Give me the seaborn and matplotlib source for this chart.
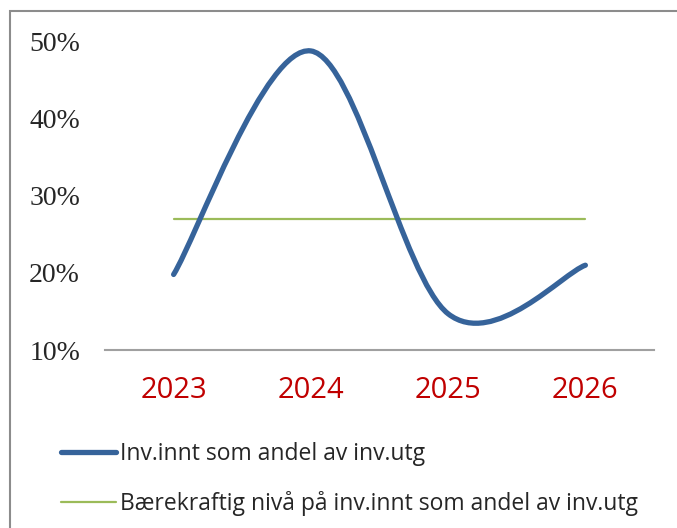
import matplotlib
matplotlib.use("Agg")
import matplotlib.pyplot as plt
import seaborn as sns
import pandas as pd
from matplotlib.path import Path
from matplotlib.patches import PathPatch, Rectangle
from matplotlib.lines import Line2D
from matplotlib.ticker import FuncFormatter

years = ["2023", "2024", "2025", "2026"]
andel = [19.8, 48.8, 14.7, 21.0]           # Inv.innt som andel av inv.utg (%)
barekraftig = [27.0, 27.0, 27.0, 27.0]     # Bærekraftig nivå (%)
yticks = [10, 20, 30, 40, 50]

label_andel = "Inv.innt som andel av inv.utg"
label_nivaa = "Bærekraftig nivå på inv.innt som andel av inv.utg"

BLUE = "#36639a"
GREEN = "#9bbb59"
GREY = "#a0a0a0"


def smooth_path(xs, ys, k=1 / 6):
    # Excel-like smoothed line: cubic Bezier segments through every data point
    pts = list(zip(xs, ys))
    n = len(pts)
    verts = [pts[0]]
    codes = [Path.MOVETO]
    for i in range(n - 1):
        p0 = pts[max(i - 1, 0)]
        p1 = pts[i]
        p2 = pts[i + 1]
        p3 = pts[min(i + 2, n - 1)]
        c1 = (p1[0] + (p2[0] - p0[0]) * k, p1[1] + (p2[1] - p0[1]) * k)
        c2 = (p2[0] - (p3[0] - p1[0]) * k, p2[1] - (p3[1] - p1[1]) * k)
        verts += [c1, c2, p2]
        codes += [Path.CURVE4] * 3
    return Path(verts, codes)


sns.set_style("white")

df = pd.DataFrame({"pos": range(len(years)), "andel": andel, "niva": barekraftig})

fig = plt.figure(figsize=(6.77, 5.28), dpi=100)
ax = fig.add_axes([105 / 677, 1 - 350 / 528, 549 / 677, (350 - 41.7) / 528])

sns.lineplot(data=df, x="pos", y="niva", ax=ax, color=GREEN, linewidth=1.6)
ax.add_patch(PathPatch(smooth_path(df["pos"], df["andel"]), facecolor="none",
                       edgecolor=BLUE, linewidth=3.8, capstyle="round", zorder=3))

ax.set_xlim(-0.5, len(years) - 0.5)
ax.set_ylim(10, 50)
ax.set_xticks(list(df["pos"]))
ax.set_xticklabels(years, color="#c00000", fontsize=21, family="Open Sans")
ax.set_yticks(yticks)
ax.yaxis.set_major_formatter(FuncFormatter(lambda v, _: f"{v:.0f}%"))
for t in ax.get_yticklabels():
    t.set_family(["Liberation Serif", "DejaVu Serif"])
    t.set_fontsize(20)
ax.tick_params(axis="x", length=0, pad=19)
ax.tick_params(axis="y", length=0, pad=18)
ax.set_xlabel("")
ax.set_ylabel("")
for side in ["top", "right", "left"]:
    ax.spines[side].set_visible(False)
ax.spines["bottom"].set_color(GREY)
ax.spines["bottom"].set_linewidth(1.5)
ax.patch.set_alpha(0)

handles = [Line2D([], [], color=BLUE, linewidth=3.8, solid_capstyle="round"),
           Line2D([], [], color=GREEN, linewidth=1.6)]
fig.legend(handles, [label_andel, label_nivaa], loc="upper left",
           bbox_to_anchor=(40 / 677, 1 - 421 / 528), frameon=False,
           prop={"family": "Open Sans", "size": 16.5}, handlelength=2.4,
           handletextpad=0.2, labelspacing=1.12)

# outer chart frame (only left and top edges show in the crop)
fig.patches.append(Rectangle((10 / 677, -0.2), 1.0, 1.2 - 11 / 528,
                             transform=fig.transFigure, fill=False,
                             edgecolor="#8c8c8c", linewidth=1.5))

fig.savefig("out.png", dpi=100)
